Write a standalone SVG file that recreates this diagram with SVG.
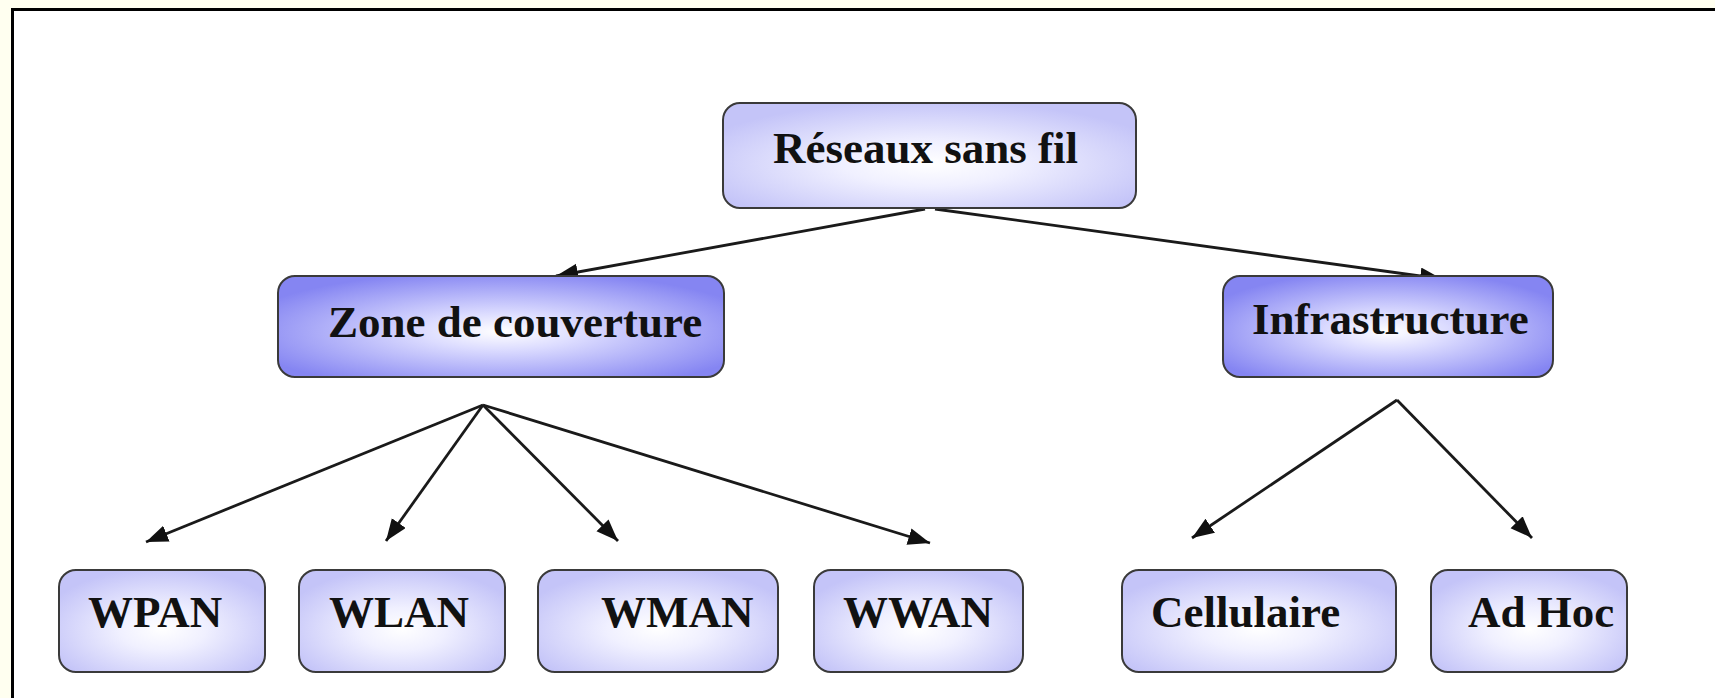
<svg xmlns="http://www.w3.org/2000/svg" width="1715" height="698" viewBox="0 0 1715 698">
<defs>
<radialGradient id="gLight" cx="50%" cy="58%" r="60%">
<stop offset="0" stop-color="#ffffff"/>
<stop offset="0.35" stop-color="#f0f0ff"/>
<stop offset="1" stop-color="#c4c4f8"/>
</radialGradient>
<radialGradient id="gDark" cx="50%" cy="55%" r="60%">
<stop offset="0" stop-color="#ffffff"/>
<stop offset="0.3" stop-color="#dcdcff"/>
<stop offset="1" stop-color="#8585f2"/>
</radialGradient>
<marker id="arr" markerUnits="userSpaceOnUse" markerWidth="24" markerHeight="18" refX="22" refY="8.5" orient="auto">
<path d="M0,0 L22,8.5 L0,17 z" fill="#111"/>
</marker>
</defs>
<style>
.box{stroke:#3a3a3a;stroke-width:2}
.light{fill:url(#gLight)}
.dark{fill:url(#gDark)}
.lbl{font-family:"Liberation Serif","Times New Roman",serif;font-weight:bold;font-size:45px;fill:#111}
.conn{stroke:#1a1a1a;stroke-width:2.8;fill:none;marker-end:url(#arr)}
</style>
<rect x="0" y="0" width="1715" height="698" fill="#fffff0"/>
<rect x="12" y="9" width="1710" height="700" fill="#ffffff"/>
<path d="M12.5,698 L12.5,9.5 L1715,9.5" fill="none" stroke="#000" stroke-width="3"/>

<g id="connectors">
<line class="conn" x1="925" y1="209" x2="556" y2="276"/>
<line class="conn" x1="935" y1="209" x2="1442" y2="279"/>
<line class="conn" x1="483" y1="405" x2="146" y2="542"/>
<line class="conn" x1="483" y1="405" x2="386" y2="541"/>
<line class="conn" x1="483" y1="405" x2="618" y2="541"/>
<line class="conn" x1="483" y1="405" x2="930" y2="543"/>
<line class="conn" x1="1397" y1="400" x2="1192" y2="538"/>
<line class="conn" x1="1397" y1="400" x2="1532" y2="538"/>
</g>

<g id="n-reseaux">
<rect class="box light" x="723" y="103" width="413" height="105" rx="17"/>
<text class="lbl" x="773" y="163">Réseaux sans fil</text>
</g>
<g id="n-zone">
<rect class="box dark" x="278" y="276" width="446" height="101" rx="17"/>
<text class="lbl" x="328" y="337">Zone de couverture</text>
</g>
<g id="n-infra">
<rect class="box dark" x="1223" y="276" width="330" height="101" rx="17"/>
<text class="lbl" x="1252" y="334">Infrastructure</text>
</g>
<g id="n-wpan">
<rect class="box light" x="59" y="570" width="206" height="102" rx="17"/>
<text class="lbl" x="88" y="627">WPAN</text>
</g>
<g id="n-wlan">
<rect class="box light" x="299" y="570" width="206" height="102" rx="17"/>
<text class="lbl" x="329" y="627">WLAN</text>
</g>
<g id="n-wman">
<rect class="box light" x="538" y="570" width="240" height="102" rx="17"/>
<text class="lbl" x="601" y="627">WMAN</text>
</g>
<g id="n-wwan">
<rect class="box light" x="814" y="570" width="209" height="102" rx="17"/>
<text class="lbl" x="843" y="627">WWAN</text>
</g>
<g id="n-cell">
<rect class="box light" x="1122" y="570" width="274" height="102" rx="17"/>
<text class="lbl" x="1151" y="627">Cellulaire</text>
</g>
<g id="n-adhoc">
<rect class="box light" x="1431" y="570" width="196" height="102" rx="17"/>
<text class="lbl" x="1468" y="627">Ad Hoc</text>
</g>
</svg>
